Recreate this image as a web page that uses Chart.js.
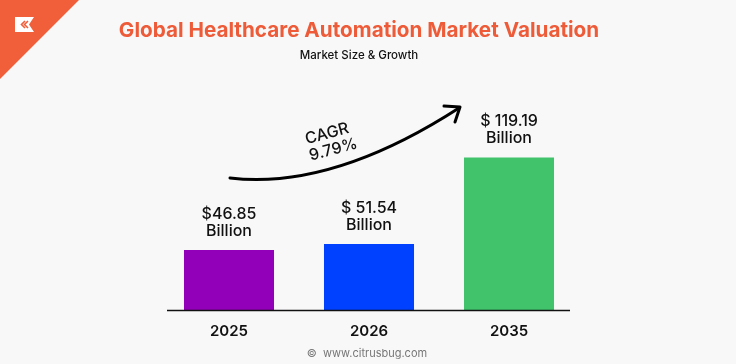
<!DOCTYPE html>
<html>
<head>
<meta charset="utf-8">
<script src="https://cdn.jsdelivr.net/npm/chart.js@4.4.1/dist/chart.umd.min.js"></script>
<style>
  html, body { margin: 0; padding: 0; background: #F8F8F8; }
  #wrap { width: 736px; height: 364px; position: relative; }
</style>
</head>
<body>
<div id="wrap"><canvas id="c" width="736" height="364"></canvas></div>
<script>
const years = ["2025", "2026", "2035"];
const marketSize = [46.85, 51.54, 119.19];
const valueLabels = [["$46.85", "Billion"], ["$ 51.54", "Billion"], ["$ 119.19", "Billion"]];
const barColors = ["#9300B9", "#0040FF", "#40C36B"];
const titleText = "Global Healthcare Automation Market Valuation";
const subtitleText = "Market Size & Growth";
const cagrText = ["CAGR", "9.79%"];
const footerText = "©  www.citrusbug.com";

const FONT = "Inter, 'DejaVu Sans', sans-serif";

const decor = {
  id: "decor",
  beforeDraw(chart) {
    const ctx = chart.ctx;
    ctx.save();
    ctx.fillStyle = "#F8F8F8";
    ctx.fillRect(0, 0, chart.width, chart.height);
    // logo triangle
    ctx.fillStyle = "#F05E3A";
    ctx.beginPath();
    ctx.moveTo(0, 0); ctx.lineTo(79, 0); ctx.lineTo(0, 79); ctx.closePath();
    ctx.fill();
    // logo badge
    ctx.fillStyle = "#FFFFFF";
    ctx.beginPath();
    ctx.moveTo(15, 17); ctx.lineTo(34, 17); ctx.lineTo(29, 24.5); ctx.lineTo(34, 32); ctx.lineTo(15, 32); ctx.closePath();
    ctx.fill();
    ctx.strokeStyle = "#F05E3A"; ctx.lineWidth = 1.6;
    ctx.beginPath(); ctx.moveTo(25, 21); ctx.lineTo(21.5, 24.5); ctx.lineTo(25, 28); ctx.stroke();
    ctx.beginPath(); ctx.moveTo(28, 21); ctx.lineTo(24.5, 24.5); ctx.lineTo(28, 28); ctx.stroke();
    // title
    ctx.textAlign = "center"; ctx.textBaseline = "middle";
    ctx.fillStyle = "#EE5B38";
    ctx.font = "bold 20.7px " + FONT;
    ctx.fillText(titleText, 359, 31);
    ctx.fillStyle = "#111111";
    ctx.font = "500 11.5px " + FONT;
    ctx.fillText(subtitleText, 359, 56);
    // footer
    ctx.fillStyle = "#777777";
    ctx.font = "11px " + FONT;
    ctx.fillText(footerText, 367, 354);
    ctx.restore();
  },
  afterDatasetsDraw(chart) {
    const ctx = chart.ctx;
    const ca = chart.chartArea;
    ctx.save();
    // baseline
    ctx.strokeStyle = "#111111"; ctx.lineWidth = 1.5;
    ctx.beginPath(); ctx.moveTo(ca.left + 8, ca.bottom + 0.5); ctx.lineTo(ca.right - 9, ca.bottom + 0.5); ctx.stroke();
    // value labels
    const meta = chart.getDatasetMeta(0);
    ctx.fillStyle = "#111111";
    ctx.font = "500 16px " + FONT;
    ctx.textAlign = "center"; ctx.textBaseline = "middle";
    meta.data.forEach((bar, i) => {
      const lines = valueLabels[i];
      ctx.fillText(lines[0], bar.x, bar.y - 36);
      ctx.fillText(lines[1], bar.x, bar.y - 19);
    });
    // CAGR arrow
    ctx.strokeStyle = "#000000"; ctx.lineWidth = 3; ctx.lineCap = "round"; ctx.lineJoin = "round";
    ctx.beginPath();
    ctx.moveTo(230, 178);
    ctx.quadraticCurveTo(332, 190, 459, 108);
    ctx.stroke();
    ctx.beginPath();
    ctx.moveTo(444, 106); ctx.lineTo(460, 107); ctx.lineTo(455, 122);
    ctx.stroke();
    // CAGR text
    ctx.translate(331, 141);
    ctx.rotate(-15 * Math.PI / 180);
    ctx.font = "500 16px " + FONT;
    ctx.fillStyle = "#111111";
    ctx.fillText(cagrText[0], -2, -8);
    ctx.fillText(cagrText[1], 0, 9);
    ctx.restore();
  }
};

new Chart(document.getElementById("c"), {
  type: "bar",
  data: {
    labels: years,
    datasets: [{
      data: marketSize,
      backgroundColor: barColors,
      borderWidth: 0,
      categoryPercentage: 1.0,
      barPercentage: 0.643
    }]
  },
  options: {
    responsive: false,
    animation: false,
    devicePixelRatio: 1,
    layout: { padding: { left: 159, right: 157, top: 131, bottom: 12 } },
    plugins: { legend: { display: false }, tooltip: { enabled: false }, title: { display: false } },
    scales: {
      x: {
        grid: { display: false, drawTicks: false },
        border: { display: false },
        ticks: { color: "#111111", font: { family: FONT, size: 15, weight: "600" }, padding: 12 }
      },
      y: { display: false, min: 0, max: 140 }
    }
  },
  plugins: [decor]
});
</script>
</body>
</html>
